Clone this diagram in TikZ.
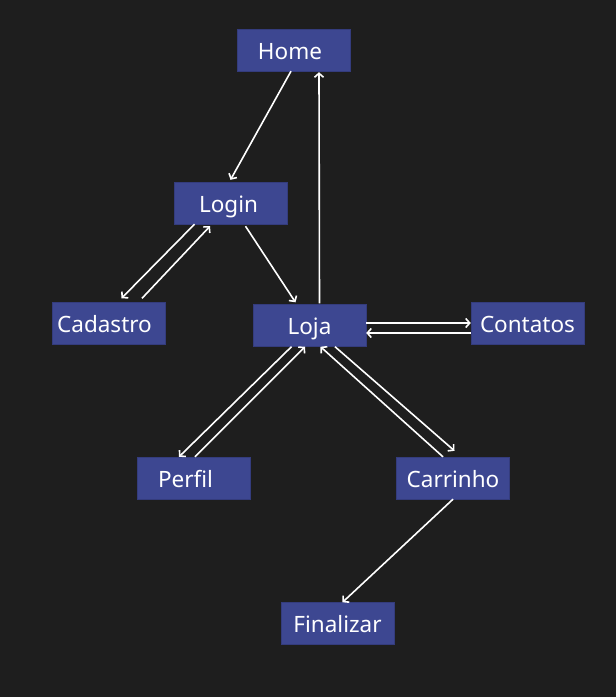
\documentclass[tikz,border=0pt]{standalone}
\usepackage{fontspec}
\setmainfont{Noto Sans}
\usetikzlibrary{arrows.meta}
\definecolor{bg}{RGB}{30,30,30}
\definecolor{boxblue}{RGB}{61,71,145}
\definecolor{boxedge}{RGB}{52,60,125}
\begin{document}
\begin{tikzpicture}[x=1pt,y=-1pt]
\tikzstyle{page} = [rectangle, draw=boxedge, fill=boxblue, text=white,
minimum width=113pt, minimum height=42pt, inner sep=0pt,
text height=18.5pt, text depth=0pt,
font=\fontsize{22.5}{26}\selectfont]
\tikzstyle{line} = [draw=white, line width=1.6pt, -{Straight Barb[length=4pt,width=9pt]}];
\fill[bg] (0,0) rectangle (616,697);
\useasboundingbox (0,0) rectangle (616,697);
% pages
\node [page] (home) at (294,50) {Home\hspace*{8pt}};
\node [page] (login) at (230.5,203) {Login\hspace*{4pt}};
\node [page] (cadastro) at (108.5,323.5) {Cadastro\hspace*{8pt}};
\node [page] (loja) at (309.5,325.5) {Loja};
\node [page] (contatos) at (527.5,323.5) {Contatos};
\node [page] (perfil) at (194,478) {Perfil\hspace*{17pt}};
\node [page] (carrinho) at (453,478) {Carrinho};
\node [page] (finalizar) at (337.5,623.5) {Finalizar};
% links
\path [line] ([xshift=-3pt]home.south) -- ([yshift=2pt]login.north);
\path [line] ([xshift=10pt,yshift=1pt]loja.north) -- ([xshift=25pt,yshift=-1pt]home.south);
\path [line] ([xshift=-36pt]login.south) -- ([xshift=13pt,yshift=4pt]cadastro.north);
\path [line] ([xshift=33.5pt,yshift=4pt]cadastro.north) -- ([xshift=-20.5pt,yshift=-2pt]login.south);
\path [line] ([xshift=15pt,yshift=-2pt]login.south) -- ([xshift=-14pt,yshift=2pt]loja.north);
\path [line] ([yshift=2.5pt]loja.east) -- ([yshift=2.5pt]loja.east -| contatos.west);
\path [line] ([yshift=-9.5pt]contatos.west) -- ([yshift=-9.5pt]contatos.west -| loja.east);
\path [line] ([xshift=-18pt]loja.south) -- ([xshift=-15pt]perfil.north);
\path [line] ([xshift=1pt]perfil.north) -- ([xshift=-4.5pt]loja.south);
\path [line] ([xshift=-10pt]carrinho.north) -- ([xshift=11pt]loja.south);
\path [line] ([xshift=25.5pt]loja.south) -- ([xshift=1.5pt,yshift=6pt]carrinho.north);
\path [line] (carrinho.south) -- ([xshift=5pt]finalizar.north);
\end{tikzpicture}
\end{document}
